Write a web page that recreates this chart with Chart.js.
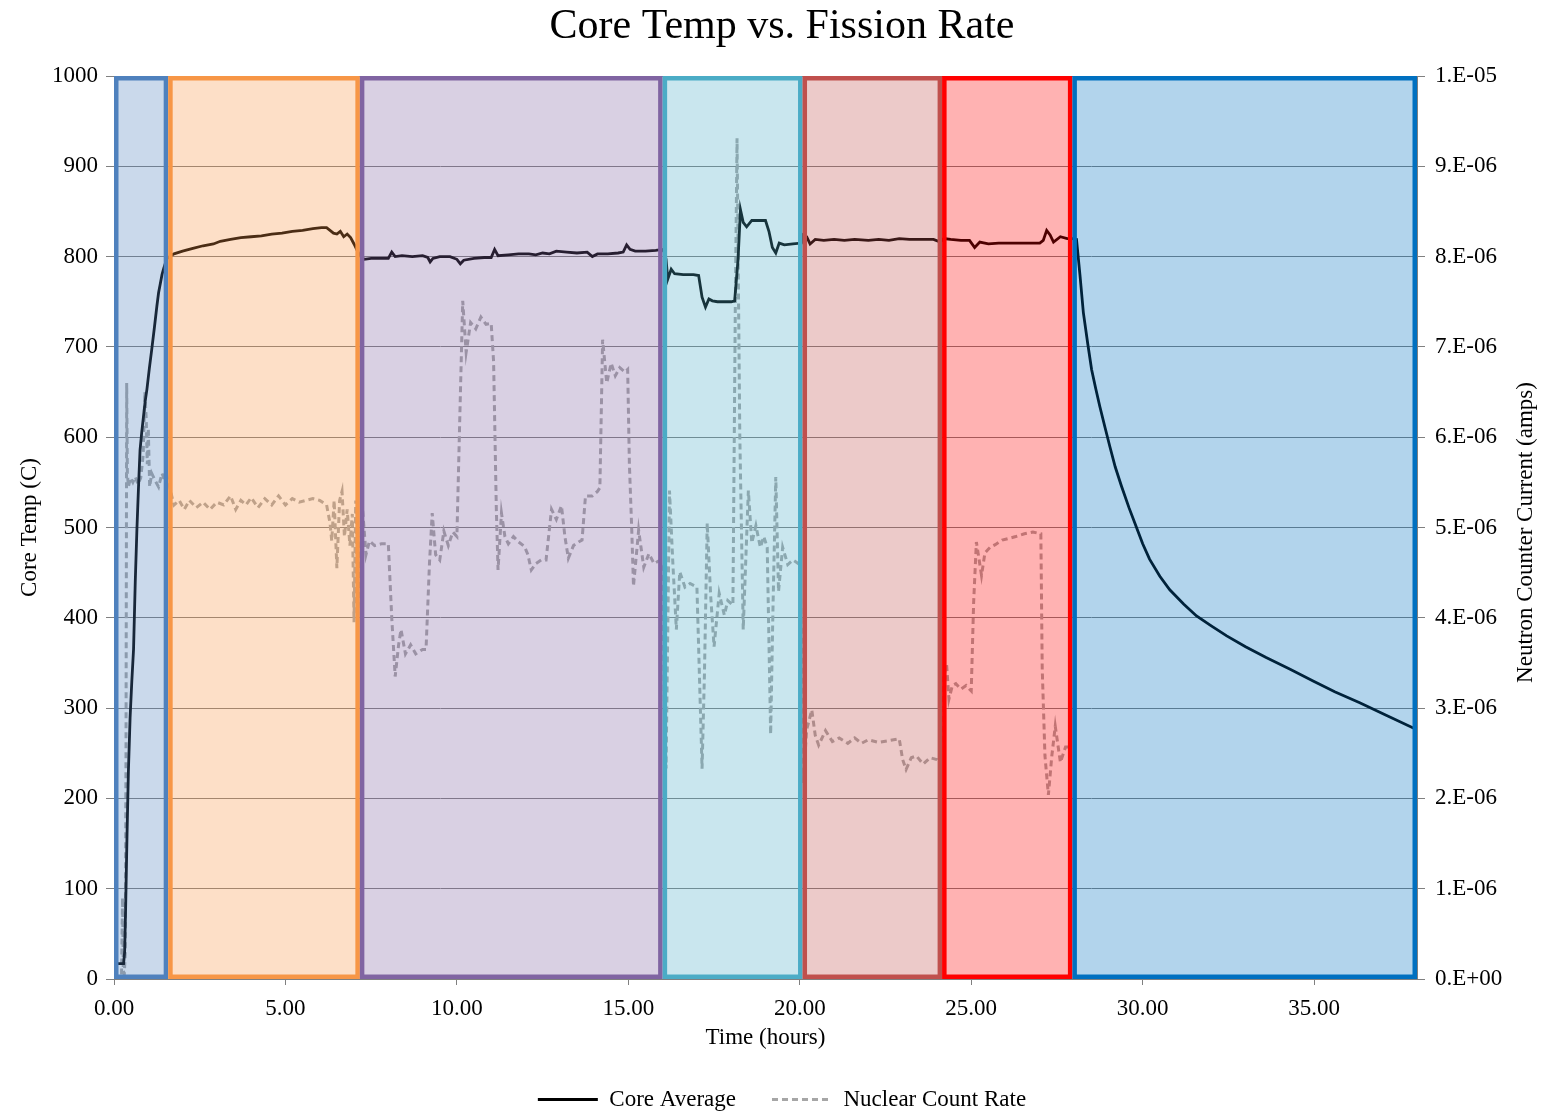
<!DOCTYPE html>
<html>
<head>
<meta charset="utf-8">
<script src="https://cdn.jsdelivr.net/npm/chart.js@4.4.0/dist/chart.umd.min.js"></script>
<style>
  html, body { margin: 0; padding: 0; background: #fff; }
  #wrap { width: 1564px; height: 1114px; }
</style>
</head>
<body>
<div id="wrap"><canvas id="chart" width="1564" height="1114"></canvas></div>
<script>
// core average temperature (C) vs time (hours)
const coreTime = [0.00,0.10,0.20,0.28,0.31,0.34,0.38,0.42,0.47,0.52,0.57,0.62,0.67,0.72,0.76,0.81,0.86,0.91,0.96,1.03,1.10,1.18,1.25,1.30,1.35,1.40,1.45,1.50,1.55,
  1.62,1.75,2.0,2.3,2.6,2.9,3.1,3.4,3.7,4.0,4.3,4.6,4.9,5.2,5.5,5.8,6.05,6.2,6.3,6.4,6.5,6.6,6.7,6.8,6.9,7.0,7.1,7.2,
  7.3,7.5,7.8,8.0,8.1,8.2,8.4,8.7,9.0,9.15,9.22,9.3,9.5,9.8,10.0,10.1,10.2,10.5,10.8,11.0,11.1,11.2,11.5,11.8,12.1,12.3,12.5,12.7,12.9,13.2,13.5,13.8,13.95,14.1,14.4,14.7,14.85,14.95,15.05,15.2,15.5,15.8,15.98,
  16.05,16.1,16.15,16.25,16.35,16.6,16.9,17.05,17.15,17.25,17.35,17.45,17.6,17.8,18.0,18.1,18.2,18.27,18.35,18.45,18.6,18.8,19.0,19.1,19.2,19.3,19.4,19.55,19.8,20.05,
  20.1,20.2,20.3,20.45,20.7,21.0,21.3,21.6,22.0,22.3,22.6,22.9,23.2,23.6,23.9,24.1,24.2,
  24.4,24.7,24.95,25.1,25.25,25.5,25.8,26.1,26.4,26.7,27.0,27.1,27.2,27.3,27.4,27.6,27.8,27.95,
  28.07,28.17,28.27,28.4,28.51,28.63,28.75,28.9,29.04,29.2,29.38,29.6,29.82,30.0,30.2,30.5,30.79,31.2,31.57,32.0,32.45,33.0,33.6,34.3,34.97,35.6,36.33,37.1,37.89,38.0];
const coreTemp = [17,17,17,17,30,80,160,230,290,330,365,440,500,550,586,606,623,640,653,676,697,722,745,760,770,780,787,793,798,
  800,803,806,809,812,814,817,819,821,822,823,825,826,828,829,831,832,832,829,826,825,828,822,825,821,814,806,800,
  797,798,798,798,805,800,801,800,801,799,794,798,800,800,797,792,796,798,799,799,808,801,802,803,803,802,804,803,806,805,804,805,800,803,803,804,805,813,808,806,806,807,808,
  805,797,775,786,781,780,780,779,755,744,753,751,750,750,750,751,797,852,838,833,840,840,840,828,810,804,815,813,814,815,
  824,822,814,819,818,819,818,819,818,819,818,820,819,819,819,816,820,
  819,818,818,810,816,814,815,815,815,815,815,818,829,824,816,822,820,820,
  819,780,738,703,675,654,634,611,590,567,546,522,500,482,465,446,431,415,402,391,380,368,356,343,330,318,306,292,278,277];

// nuclear count rate, neutron counter current in micro-amps
const nucTime = [0.22,0.25,0.27,0.30,0.33,0.35,0.37,0.39,0.42,0.48,0.55,0.62,0.70,0.78,0.85,0.90,0.94,0.97,1.00,1.04,1.10,1.20,1.30,1.40,1.50,1.56,
  1.65,1.75,1.9,2.05,2.2,2.4,2.6,2.8,3.0,3.2,3.4,3.55,3.7,3.85,4.0,4.2,4.4,4.6,4.8,5.0,5.2,5.4,5.6,5.8,6.0,6.2,6.3,6.35,6.42,6.5,6.58,6.65,6.72,6.8,6.88,6.95,7.0,7.05,7.1,7.15,
  7.25,7.35,7.45,7.6,7.8,8.0,8.1,8.2,8.3,8.37,8.5,8.65,8.8,9.0,9.1,9.2,9.28,9.38,9.5,9.62,9.75,9.88,10.0,10.1,10.17,10.27,10.4,10.55,10.7,10.85,11.0,11.07,11.15,11.2,11.3,11.4,11.5,11.65,11.8,11.97,12.07,12.17,12.3,12.46,12.6,12.76,12.9,13.05,13.15,13.25,13.4,13.55,13.65,13.75,13.95,14.1,14.17,14.25,14.37,14.5,14.62,14.75,14.9,14.98,15.03,15.1,15.15,15.3,15.45,15.6,15.75,15.93,
  16.0,16.05,16.1,16.2,16.3,16.4,16.5,16.65,16.8,17.0,17.15,17.22,17.3,17.4,17.5,17.65,17.8,17.9,18.05,18.12,18.17,18.25,18.35,18.5,18.6,18.72,18.85,18.95,19.05,19.15,19.22,19.3,19.38,19.5,19.65,19.8,20.0,20.05,
  20.1,20.2,20.35,20.45,20.55,20.75,20.95,21.15,21.4,21.6,21.8,22.0,22.3,22.6,22.9,23.0,23.1,23.25,23.4,23.6,23.8,24.0,24.1,24.18,
  24.28,24.35,24.45,24.55,24.7,24.85,25.0,25.07,25.15,25.3,25.4,25.55,25.7,25.9,26.1,26.3,26.55,26.8,27.03,27.07,27.15,27.25,27.35,27.45,27.6,27.75,27.9];
const nucMicroAmps = [0.05,0.9,0.1,0.05,0.3,2.5,6.6,5.6,5.45,5.55,5.5,5.56,5.48,5.55,5.8,6.5,6.2,5.7,6.1,5.45,5.6,5.52,5.45,5.6,5.5,5.55,
  5.4,5.25,5.3,5.2,5.3,5.22,5.28,5.2,5.28,5.25,5.35,5.2,5.3,5.25,5.33,5.22,5.32,5.25,5.35,5.25,5.32,5.28,5.3,5.32,5.3,5.25,5.05,4.85,5.3,4.55,5.3,5.4,4.9,5.2,4.8,5.15,3.95,5.3,4.0,4.5,
  5.2,4.7,4.85,4.8,4.82,4.82,4.0,3.35,3.7,3.87,3.6,3.7,3.6,3.65,3.65,4.6,5.16,4.7,4.64,4.96,4.8,4.95,4.9,6.45,7.51,6.94,7.27,7.2,7.33,7.25,7.26,6.84,5.2,4.53,5.16,4.9,4.82,4.9,4.84,4.79,4.7,4.53,4.6,4.64,4.64,5.2,5.09,5.24,4.9,4.66,4.8,4.84,4.86,5.35,5.35,5.4,5.44,7.08,6.6,6.82,6.68,6.77,6.72,6.75,5.71,4.97,4.35,4.97,4.56,4.71,4.6,4.64,
  4.5,3.0,2.33,5.41,4.59,3.87,4.51,4.34,4.38,4.34,2.33,3.39,5.05,4.25,3.68,4.27,4.03,4.19,4.14,7.48,9.31,6.04,3.87,5.41,4.83,5.02,4.78,4.9,4.78,2.71,4.14,5.56,4.29,4.78,4.59,4.64,4.59,3.8,
  2.17,2.76,2.98,2.7,2.59,2.75,2.63,2.67,2.61,2.67,2.61,2.65,2.62,2.64,2.66,2.43,2.32,2.45,2.47,2.38,2.45,2.43,2.4,3.31,
  3.49,3.1,3.25,3.27,3.21,3.25,3.19,4.17,4.84,4.47,4.72,4.78,4.81,4.86,4.88,4.9,4.93,4.95,4.93,3.44,2.47,2.04,2.47,2.8,2.4,2.57,2.57];

// operating phases shaded on the plot
const phaseStart = [0, 1.58, 7.17, 16.0, 20.08, 24.15, 27.95];
const phaseEnd = [1.58, 7.17, 16.0, 20.08, 24.15, 27.95, 38.0];
const phaseColor = ['#4F81BD', '#F79646', '#8064A2', '#4BACC6', '#C0504D', '#FF0000', '#0070C0'];

const xTicks = [0, 5, 10, 15, 20, 25, 30, 35];

const serif = '"Liberation Serif", "Times New Roman", serif';

function sci(v) {
  if (Math.abs(v) < 1e-12) return '0.E+00';
  let e = Math.floor(Math.log10(v) + 1e-9);
  let m = Math.round(v / Math.pow(10, e));
  if (m >= 10) { m = 1; e += 1; }
  return m + '.E' + (e < 0 ? '-' : '+') + String(Math.abs(e)).padStart(2, '0');
}

function hexA(hex, a) {
  const n = parseInt(hex.slice(1), 16);
  return 'rgba(' + (n >> 16) + ',' + ((n >> 8) & 255) + ',' + (n & 255) + ',' + a + ')';
}

const phases = {
  id: 'phases',
  afterDatasetsDraw(chart) {
    const { ctx, chartArea } = chart;
    const x = chart.scales.x;
    const top = chartArea.top, h = chartArea.bottom - chartArea.top;
    ctx.save();
    for (let i = 0; i < phaseStart.length; i++) {
      const x1 = x.getPixelForValue(phaseStart[i]);
      const x2 = x.getPixelForValue(phaseEnd[i]);
      ctx.fillStyle = hexA(phaseColor[i], 0.3);
      ctx.fillRect(x1, top, x2 - x1, h);
    }
    const lw = 4.5;
    ctx.lineWidth = lw;
    for (let i = 0; i < phaseStart.length; i++) {
      const x1 = x.getPixelForValue(phaseStart[i]);
      const x2 = x.getPixelForValue(phaseEnd[i]);
      ctx.strokeStyle = phaseColor[i];
      ctx.strokeRect(x1 + lw / 2, top + lw / 2, x2 - x1 - lw, h - lw);
    }
    ctx.restore();
  },
  afterDraw(chart) {
    // right axis title reads bottom-to-top like the original
    const { ctx, chartArea } = chart;
    const y2 = chart.scales.y2;
    ctx.save();
    ctx.translate(y2.right - 38, (chartArea.top + chartArea.bottom) / 2 + 5);
    ctx.rotate(-Math.PI / 2);
    ctx.font = '23px ' + serif;
    ctx.fillStyle = '#000';
    ctx.textAlign = 'center';
    ctx.textBaseline = 'middle';
    ctx.fillText('Neutron Counter Current (amps)', 0, 0);
    ctx.restore();
  }
};

new Chart(document.getElementById('chart'), {
  type: 'line',
  data: {
    datasets: [{
      label: 'Core Average',
      data: coreTime.map((t, i) => ({ x: t, y: coreTemp[i] })),
      yAxisID: 'y',
      borderColor: '#000000',
      borderWidth: 2.8,
      pointRadius: 0,
      tension: 0
    }, {
      label: 'Nuclear Count Rate',
      data: nucTime.map((t, i) => ({ x: t, y: nucMicroAmps[i] * 1e-6 })),
      yAxisID: 'y2',
      borderColor: '#A6A6A6',
      borderWidth: 3,
      borderDash: [6, 4],
      pointRadius: 0,
      tension: 0
    }]
  },
  options: {
    responsive: false,
    animation: false,
    layout: { padding: 0 },
    plugins: {
      title: {
        display: true,
        text: 'Core Temp vs. Fission Rate',
        color: '#000',
        font: { family: serif, size: 42, weight: 'normal' },
        padding: { top: 2, bottom: 23.6 }
      },
      legend: {
        position: 'bottom',
        maxHeight: 62,
        labels: {
          color: '#000',
          font: { family: serif, size: 23 },
          usePointStyle: true,
          pointStyle: 'line',
          pointStyleWidth: 60,
          boxHeight: 10,
          padding: 36,
          generateLabels(chart) {
            const items = Chart.defaults.plugins.legend.labels.generateLabels(chart);
            items.forEach(it => {
              const ds = chart.data.datasets[it.datasetIndex];
              it.lineDash = ds.borderDash || [];
              it.lineWidth = ds.borderWidth;
              it.strokeStyle = ds.borderColor;
            });
            return items;
          }
        }
      },
      tooltip: { enabled: false }
    },
    scales: {
      x: {
        type: 'linear',
        min: 0,
        max: 38,
        afterFit(s) { s.height = 73; },
        afterBuildTicks(s) { s.ticks = xTicks.map(v => ({ value: v })); },
        ticks: {
          color: '#000',
          font: { family: serif, size: 23 },
          padding: 10,
          maxRotation: 0,
          callback: v => v.toFixed(2)
        },
        grid: { drawOnChartArea: false, color: '#808080', tickLength: 6 },
        border: { color: '#808080' },
        title: {
          display: true,
          text: 'Time (hours)',
          color: '#000',
          font: { family: serif, size: 23 },
          padding: { top: 0, bottom: 0 }
        }
      },
      y: {
        position: 'left',
        min: 0,
        max: 1000,
        afterFit(s) { s.width = 114; },
        ticks: {
          stepSize: 100,
          color: '#000',
          font: { family: serif, size: 23 },
          padding: 8,
          callback: v => String(v)
        },
        grid: { color: '#808080', lineWidth: 1, tickLength: 8 },
        border: { color: '#808080' },
        title: {
          display: true,
          text: 'Core Temp (C)',
          color: '#000',
          font: { family: serif, size: 23 },
          padding: { top: 16, bottom: 0 }
        }
      },
      y2: {
        position: 'right',
        min: 0,
        max: 1e-5,
        afterFit(s) { s.width = 147; },
        ticks: {
          stepSize: 1e-6,
          color: '#000',
          font: { family: serif, size: 23 },
          padding: 10,
          callback: v => sci(v)
        },
        grid: { drawOnChartArea: false, color: '#808080', tickLength: 8 },
        border: { color: '#808080' }
      }
    }
  },
  plugins: [phases]
});
</script>
</body>
</html>
